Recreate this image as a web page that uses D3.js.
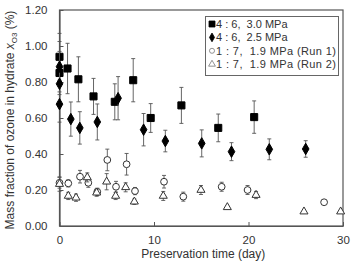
<!DOCTYPE html>
<html>
<head>
<meta charset="utf-8">
<script src="https://d3js.org/d3.v7.min.js"></script>
<style>
  body { margin: 0; background: #fff; }
  svg text { font-family: "Liberation Sans", Arial, sans-serif; fill: #333; }
</style>
</head>
<body>
<div id="chart"></div>
<script>
// 4:6, 3.0 MPa (filled squares)
var sqDay = [0, 0, 0.85, 2, 3.6, 5.85, 7.8, 9.65, 12.9, 16.8, 20.6];
var sqVal = [0.94, 0.85, 0.875, 0.815, 0.72, 0.69, 0.81, 0.60, 0.67, 0.545, 0.605];
var sqErr = [0.13, 0.12, 0.14, 0.125, 0.1, 0.1, 0.12, 0.08, 0.1, 0.077, 0.09];

// 4:6, 2.5 MPa (filled diamonds)
var dmDay = [0, 0, 0, 1.2, 2.15, 4.0, 6.2, 8.9, 11.2, 15.05, 18.2, 22.2, 26.05];
var dmVal = [0.885, 0.79, 0.677, 0.594, 0.545, 0.578, 0.71, 0.535, 0.472, 0.459, 0.413, 0.426, 0.428];
var dmErr = [0.14, 0.1, 0.1, 0.095, 0.09, 0.1, 0.12, 0.09, 0.06, 0.075, 0.05, 0.058, 0.046];

// 1:7, 1.9 MPa Run 1 (open circles)
var ciDay = [0, 0.93, 2.17, 3.05, 4.0, 5.06, 5.98, 7.1, 7.99, 11.06, 13.1, 17.16, 19.9, 28];
var ciVal = [0.24, 0.237, 0.274, 0.24, 0.19, 0.367, 0.218, 0.343, 0.194, 0.246, 0.163, 0.218, 0.2, 0.132];
var ciErr = [0.03, 0.02, 0.035, 0.025, 0.02, 0.06, 0.03, 0.06, 0.02, 0.035, 0.025, 0.025, 0.025, 0];

// 1:7, 1.9 MPa Run 2 (open triangles)
var trDay = [0, 0.93, 1.75, 2.94, 3.93, 4.99, 5.94, 7.0, 7.92, 10.98, 14.97, 17.76, 20.8, 25.87, 29.75];
var trVal = [0.233, 0.167, 0.157, 0.27, 0.185, 0.246, 0.167, 0.215, 0.135, 0.167, 0.2, 0.104, 0.172, 0.08, 0.08];
var trErr = [0.04, 0.02, 0.02, 0.025, 0.02, 0.045, 0.02, 0.025, 0.015, 0.025, 0.025, 0, 0.02, 0, 0];

var legendLabels = ["4 : 6,  3.0 MPa", "4 : 6,  2.5 MPa", "1 : 7,  1.9 MPa (Run 1)", "1 : 7,  1.9 MPa (Run 2)"];
var xTicks = [0, 10, 20, 30];
var yTicks = [0, 0.2, 0.4, 0.6, 0.8, 1.0, 1.2];

var W = 353, H = 263;
var margin = {top: 10, right: 10, bottom: 37, left: 59.5};

var svg = d3.select("#chart").append("svg")
  .attr("width", W).attr("height", H);

var x = d3.scaleLinear().domain([0, 30]).range([margin.left, W - margin.right]);
var y = d3.scaleLinear().domain([0, 1.2]).range([H - margin.bottom, margin.top]);

var axisColor = "#555";

// frame
svg.append("rect")
  .attr("x", x(0)).attr("y", y(1.2))
  .attr("width", x(30) - x(0)).attr("height", y(0) - y(1.2))
  .attr("fill", "none").attr("stroke", axisColor).attr("stroke-width", 1.2);

// axes with inward ticks
var xAxis = svg.append("g")
  .attr("transform", "translate(0," + y(0) + ")")
  .call(d3.axisBottom(x).tickValues(xTicks).tickSizeInner(-4).tickSizeOuter(0).tickPadding(10).tickFormat(d3.format("d")));
var yAxis = svg.append("g")
  .attr("transform", "translate(" + x(0) + ",0)")
  .call(d3.axisLeft(y).tickValues(yTicks).tickSizeInner(-4).tickSizeOuter(0).tickPadding(12).tickFormat(d3.format(".2f")));
[xAxis, yAxis].forEach(function(a) {
  a.select(".domain").attr("stroke", axisColor).attr("stroke-width", 1.2);
  a.selectAll(".tick line").attr("stroke", axisColor);
  a.selectAll(".tick text").attr("font-size", 11.5).style("fill", "#333")
    .attr("font-family", "Liberation Sans, Arial, sans-serif");
});

// axis titles
svg.append("text")
  .attr("x", (x(0) + x(30)) / 2 + 2).attr("y", 258)
  .attr("text-anchor", "middle").attr("font-size", 12)
  .text("Preservation time (day)");

var yl = svg.append("text")
  .attr("transform", "translate(14," + 120 + ") rotate(-90)")
  .attr("text-anchor", "middle").attr("font-size", 12);
yl.append("tspan").text("Mass fraction of ozone in hydrate ");
yl.append("tspan").attr("font-style", "italic").text("x");
yl.append("tspan").attr("font-size", 8).attr("dy", 3).text("O3");
yl.append("tspan").attr("dy", -3).text(" (%)");

function zip(days, vals, errs) {
  return days.map(function(d, i) { return {d: d, v: vals[i], e: errs[i]}; });
}

var series = [
  {data: zip(sqDay, sqVal, sqErr), sym: d3.symbolSquare, size: 50, fill: "#000", stroke: "#000"},
  {data: zip(dmDay, dmVal, dmErr), sym: d3.symbolDiamond, size: 38, fill: "#000", stroke: "#000"},
  {data: zip(ciDay, ciVal, ciErr), sym: d3.symbolCircle, size: 36, fill: "#fff", stroke: "#333"},
  {data: zip(trDay, trVal, trErr), sym: d3.symbolTriangle, size: 28, fill: "#fff", stroke: "#333"}
];

var plot = svg.append("g");

series.forEach(function(s) {
  var g = plot.append("g");
  var eb = g.selectAll(".eb").data(s.data.filter(function(p) { return p.e > 0; }))
    .enter().append("g").attr("stroke", "#555").attr("stroke-width", 0.9);
  eb.append("line")
    .attr("x1", function(p) { return x(p.d); }).attr("x2", function(p) { return x(p.d); })
    .attr("y1", function(p) { return y(p.v + p.e); }).attr("y2", function(p) { return y(p.v - p.e); });
  eb.append("line")
    .attr("x1", function(p) { return x(p.d) - 2; }).attr("x2", function(p) { return x(p.d) + 2; })
    .attr("y1", function(p) { return y(p.v + p.e); }).attr("y2", function(p) { return y(p.v + p.e); });
  eb.append("line")
    .attr("x1", function(p) { return x(p.d) - 2; }).attr("x2", function(p) { return x(p.d) + 2; })
    .attr("y1", function(p) { return y(p.v - p.e); }).attr("y2", function(p) { return y(p.v - p.e); });

  g.selectAll("path.m").data(s.data).enter().append("path")
    .attr("class", "m")
    .attr("d", d3.symbol().type(s.sym).size(s.size))
    .attr("transform", function(p) { return "translate(" + x(p.d) + "," + y(p.v) + ")"; })
    .attr("fill", s.fill).attr("stroke", s.stroke).attr("stroke-width", 1);
});

// legend
var lg = svg.append("g");
lg.append("rect")
  .attr("x", 205.5).attr("y", 16.5).attr("width", 133).attr("height", 59)
  .attr("fill", "#fff").attr("stroke", "#666").attr("stroke-width", 1);
legendLabels.forEach(function(t, i) {
  var s = series[i];
  var cy = 24 + i * 13.4;
  lg.append("path")
    .attr("d", d3.symbol().type(s.sym).size(i === 0 ? 36 : (i === 1 ? 22 : 20)))
    .attr("transform", "translate(212," + cy + ")")
    .attr("fill", s.fill).attr("stroke", i < 2 ? "#000" : "#777").attr("stroke-width", 0.8);
  lg.append("text")
    .attr("x", 216).attr("y", cy + 4)
    .attr("font-size", 11)
    .attr("textLength", i < 2 ? null : 120)
    .attr("xml:space", "preserve")
    .style("white-space", "pre")
    .text(t);
});
</script>
</body>
</html>
